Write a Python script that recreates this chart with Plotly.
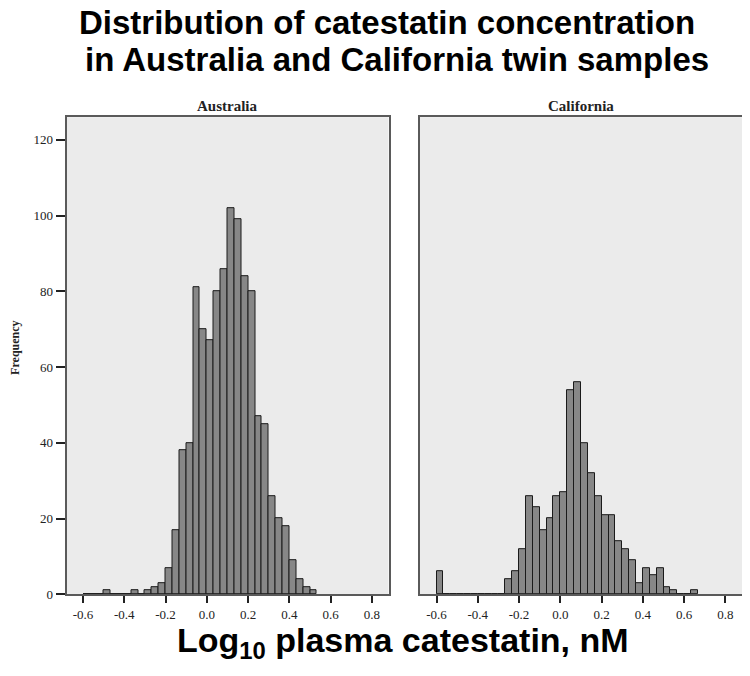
import plotly.graph_objects as go

# ---- data ----
BIN_START = -0.6
BIN_WIDTH = 1 / 30

australia_counts = [0, 0, 0, 1, 0, 0, 0, 1, 0, 1, 2, 3, 7, 17, 38, 40, 81, 70, 67, 80,
                    86, 102, 99, 84, 80, 47, 45, 26, 20, 18, 9, 4, 2, 1]
california_counts = [6, 0, 0, 0, 0, 0, 0, 0, 0, 0, 4, 6, 12, 26, 23, 17, 20, 26, 27, 54,
                     56, 40, 32, 26, 21, 21, 14, 12, 9, 3, 7, 5, 7, 2, 1, 0, 0, 1]

x_ticks = [-0.6, -0.4, -0.2, 0.0, 0.2, 0.4, 0.6, 0.8]
x_tick_labels = ["-0.6", "-0.4", "-0.2", "0.0", "0.2", "0.4", "0.6", "0.8"]
y_ticks = [0, 20, 40, 60, 80, 100, 120]
y_tick_labels = ["0", "20", "40", "60", "80", "100", "120"]

panel_titles = ["Australia", "California"]
main_title_lines = ["Distribution of catestatin concentration",
                    "in Australia and California twin samples"]
x_title = "Log<sub>10</sub> plasma catestatin, nM"
y_title = "Frequency"


def bin_centers(counts):
    return [BIN_START + BIN_WIDTH * (i + 0.5) for i in range(len(counts))]


# page is drawn inside the default 8px body margin
OFF = 8
W, H = 750 - OFF, 676 - OFF


def px(x):
    return (x - OFF) / W


def py(y):
    return 1 - (y - OFF) / H


BAR_FILL = "#878787"
BAR_LINE = "#1a1a1a"
PANEL_BG = "#ebebeb"
FRAME = "#5a5a5a"
SERIF = "Liberation Serif"
SANS = "Liberation Sans"

fig = go.Figure()
for i, counts in enumerate([australia_counts, california_counts]):
    fig.add_trace(go.Bar(
        x=bin_centers(counts), y=counts, width=BIN_WIDTH,
        marker=dict(color=BAR_FILL, line=dict(color=BAR_LINE, width=1)),
        xaxis="x" if i == 0 else "x2", yaxis="y" if i == 0 else "y2",
        showlegend=False, hoverinfo="x+y",
    ))

ydom = [py(601.5), py(118.5)]
xdom1 = [px(66.5), px(388.5)]
xdom2 = [px(420), px(742)]
xr = [-0.68, 0.88]
yr = [0, 126]

xaxis_common = dict(
    range=xr, tickvals=x_ticks, ticktext=x_tick_labels, ticks="outside",
    ticklen=7, tickwidth=1.5, tickcolor="#222", showgrid=False, zeroline=False,
    showline=True, linecolor=FRAME, linewidth=2, mirror=True,
    tickfont=dict(family=SERIF, size=13, color="#222"),
)
fig.update_layout(
    width=W, height=H, margin=dict(l=0, r=0, t=0, b=0),
    paper_bgcolor="white", plot_bgcolor=PANEL_BG, bargap=0,
    xaxis=dict(domain=xdom1, anchor="y", **xaxis_common),
    xaxis2=dict(domain=xdom2, anchor="y2", **xaxis_common),
    yaxis=dict(domain=ydom, range=yr, tickvals=y_ticks, ticktext=y_tick_labels,
               ticks="outside", ticklen=9, tickwidth=1.5, tickcolor="#222",
               showgrid=False, zeroline=False, showline=True, linecolor=FRAME,
               linewidth=2, mirror=True,
               tickfont=dict(family=SERIF, size=13, color="#222")),
    yaxis2=dict(domain=ydom, range=yr, anchor="x2", showticklabels=False,
                ticks="", showgrid=False, zeroline=False, showline=True,
                linecolor=FRAME, linewidth=2, mirror=True),
)

ann = []
ann.append(dict(text=main_title_lines[0], x=px(387), y=py(23),
                font=dict(family=SANS, size=33, color="black", weight="bold")))
ann.append(dict(text=main_title_lines[1], x=px(397), y=py(60),
                font=dict(family=SANS, size=33, color="black", weight="bold")))
ann.append(dict(text=panel_titles[0], x=(xdom1[0] + xdom1[1]) / 2, y=py(107),
                font=dict(family=SERIF, size=15, color="#222", weight="bold")))
ann.append(dict(text=panel_titles[1], x=(xdom2[0] + xdom2[1]) / 2, y=py(107),
                font=dict(family=SERIF, size=15, color="#222", weight="bold")))
ann.append(dict(text=y_title, x=px(15), y=py(352), textangle=-90,
                font=dict(family=SERIF, size=12, color="#222", weight="bold")))
ann.append(dict(text=x_title, x=px(403), y=py(650),
                font=dict(family=SANS, size=34, color="black", weight="bold")))
for a in ann:
    a.update(xref="paper", yref="paper", showarrow=False,
             xanchor="center", yanchor="middle")
fig.update_layout(annotations=ann)

fig.write_html("out.html")
